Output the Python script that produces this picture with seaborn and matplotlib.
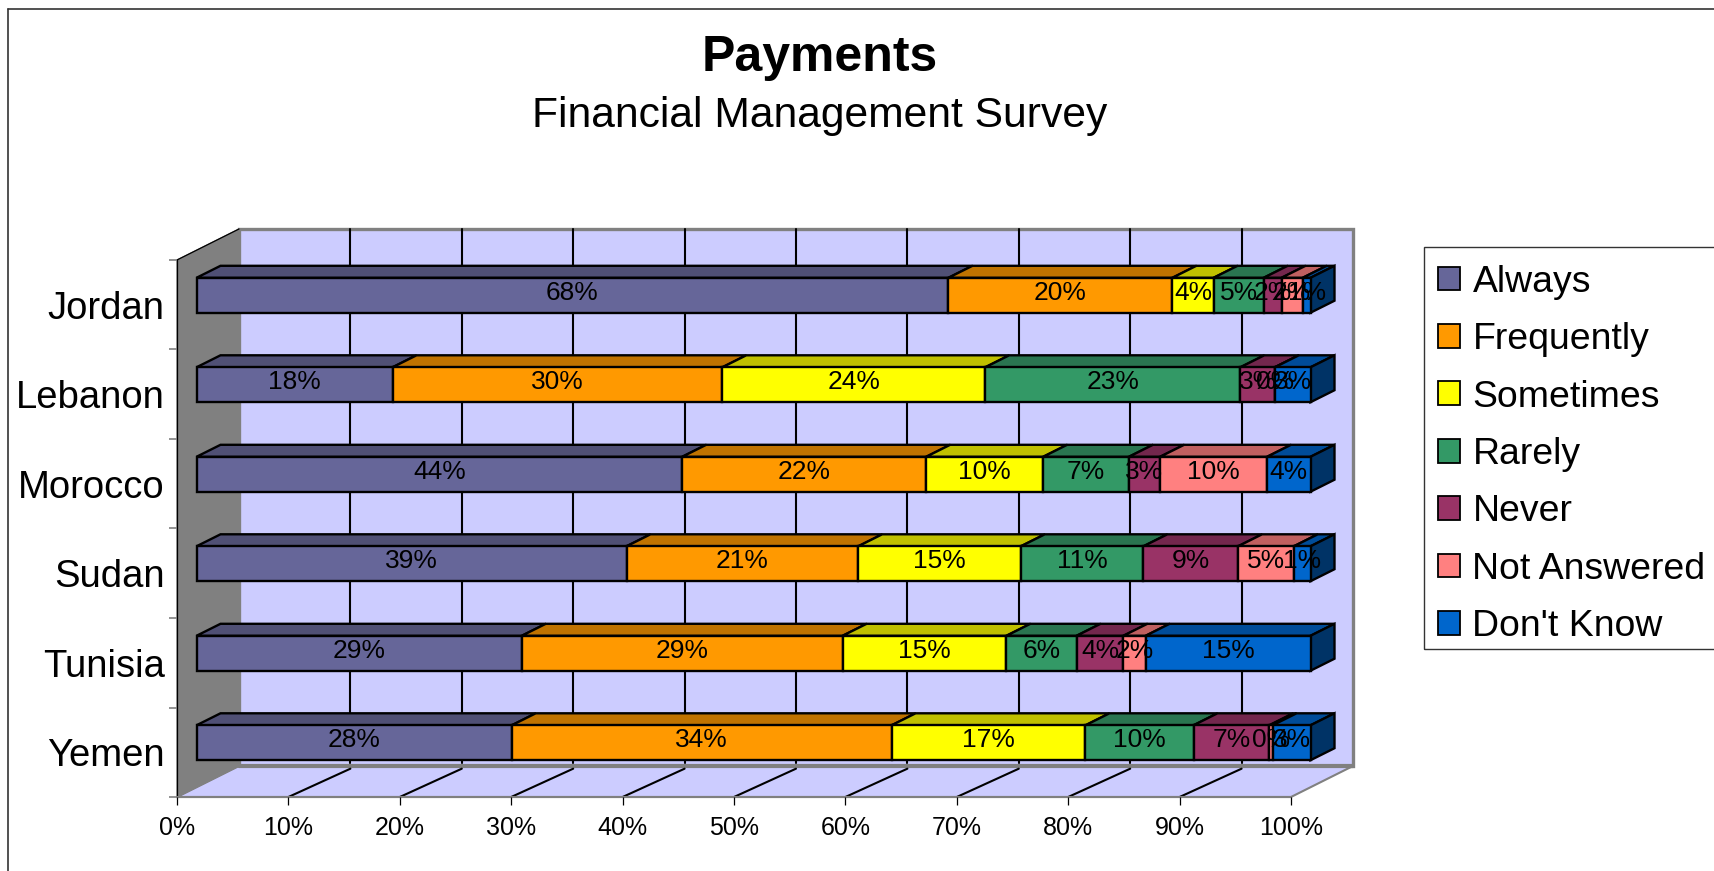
"""Payments chart: 100% stacked bars with an oblique 3D look."""

import matplotlib
matplotlib.use("Agg")
import matplotlib.pyplot as plt
import matplotlib.transforms as mtransforms
from matplotlib.patches import Patch, Rectangle
import numpy as np
import pandas as pd
import seaborn as sns

countries = ["Jordan", "Lebanon", "Morocco", "Sudan", "Tunisia", "Yemen"]
responses = ["Always", "Frequently", "Sometimes", "Rarely", "Never", "Not Answered", "Don't Know"]

# bar lengths (the chart normalises to 100%)
always = [67.5, 17.6, 43.6, 38.6, 29.2, 28.3]
frequently = [20.1, 29.6, 21.9, 20.8, 28.8, 34.1]
sometimes = [3.7, 23.6, 10.5, 14.6, 14.7, 17.4]
rarely = [4.5, 22.9, 7.7, 11.0, 6.3, 9.7]
never = [1.6, 3.1, 2.8, 8.5, 4.2, 6.8]
not_answered = [1.9, 0.0, 9.6, 5.0, 2.0, 0.3]
dont_know = [0.7, 3.2, 3.9, 1.5, 14.8, 3.4]

# printed data labels, they do not always round from the bar length
always_labels = ["68%", "18%", "44%", "39%", "29%", "28%"]
frequently_labels = ["20%", "30%", "22%", "21%", "29%", "34%"]
sometimes_labels = ["4%", "24%", "10%", "15%", "15%", "17%"]
rarely_labels = ["5%", "23%", "7%", "11%", "6%", "10%"]
never_labels = ["2%", "3%", "3%", "9%", "4%", "7%"]
not_answered_labels = ["2%", "0%", "10%", "5%", "2%", "0%"]
dont_know_labels = ["1%", "3%", "4%", "1%", "15%", "3%"]

series = [always, frequently, sometimes, rarely, never, not_answered, dont_know]
series_labels = [always_labels, frequently_labels, sometimes_labels, rarely_labels,
                 never_labels, not_answered_labels, dont_know_labels]

colors = ["#666699", "#FF9900", "#FFFF00", "#339966", "#993366", "#FF8080", "#0066CC"]
top_colors = ["#505075", "#C07300", "#C0C000", "#2A7550", "#73274D", "#C06060", "#004C99"]
side_color = "#003366"
wall_color = "#CCCCFF"
edge_gray = "#808080"

W, H = 1714, 871
AX_L, AX_R, AX_T, AX_B = 177, 1291, 260, 797
BAR_W = 0.39
BAR_LW = 1.7

sns.set_theme(style="white")
plt.rcParams["font.family"] = ["Liberation Sans", "DejaVu Sans"]
plt.rcParams["text.color"] = "black"

fig = plt.figure(figsize=(W / 100, H / 100), dpi=100)
ax = fig.add_axes([AX_L / W, 1 - AX_B / H, (AX_R - AX_L) / W, (AX_B - AX_T) / H])
ax.patch.set_visible(False)

px_x = (AX_R - AX_L) / 100
px_y = (AX_B - AX_T) / 6
# depth of the box and of one bar, in data units
wall_dx, wall_dy = 62 / px_x, 31 / px_y
bar_dx, bar_dy = 24 / px_x, 12 / px_y

# bars sit halfway into the box
bar_trans = ax.transData + mtransforms.Affine2D().translate(19.5, 9.5)

# back wall, side wall and floor
y_top, y_bot = -0.5, 5.5
ax.fill([wall_dx, 100 + wall_dx, 100 + wall_dx, wall_dx],
        [y_top - wall_dy, y_top - wall_dy, y_bot - wall_dy, y_bot - wall_dy],
        facecolor=wall_color, edgecolor=edge_gray, lw=2.4, clip_on=False, zorder=1)
ax.fill([0, wall_dx, 100 + wall_dx, 100],
        [y_bot, y_bot - wall_dy, y_bot - wall_dy, y_bot],
        facecolor=wall_color, edgecolor=edge_gray, lw=1.5, clip_on=False, zorder=1)
ax.plot([wall_dx, 100 + wall_dx], [y_bot - wall_dy, y_bot - wall_dy], color=edge_gray,
        lw=3, clip_on=False, zorder=1.05)
ax.fill([0, wall_dx, wall_dx, 0],
        [y_top, y_top - wall_dy, y_bot - wall_dy, y_bot],
        facecolor=edge_gray, edgecolor=edge_gray, lw=1, clip_on=False, zorder=1.1)
ax.plot([0, wall_dx], [y_top, y_top - wall_dy], color="black", lw=0.9, clip_on=False, zorder=1.2)

# gridlines on the wall and across the floor
for v in range(10, 100, 10):
    ax.plot([v + wall_dx, v + wall_dx], [y_top - wall_dy, y_bot - wall_dy - 0.03],
            color="black", lw=1.5, clip_on=False, zorder=1.5)
    ax.plot([v, v + wall_dx], [y_bot, y_bot - wall_dy + 0.03],
            color="black", lw=1.5, clip_on=False, zorder=1.5)

df = pd.DataFrame({"country": countries})
left = np.zeros(len(countries))
for name, vals, color in zip(responses, series, colors):
    df["share"] = vals
    sns.barplot(data=df, x="share", y="country", order=countries, orient="h", left=left,
                color=color, saturation=1, width=BAR_W, edgecolor="black", linewidth=BAR_LW,
                transform=bar_trans, zorder=3, clip_on=False, ax=ax, errorbar=None)
    left = left + np.array(vals)

# oblique top faces, and the end face of the last segment
left = np.zeros(len(countries))
for vals, top_color in zip(series, top_colors):
    for i, v in enumerate(vals):
        l, r, yt = left[i], left[i] + v, i - BAR_W / 2
        ax.fill([l, r, r + bar_dx, l + bar_dx], [yt, yt, yt - bar_dy, yt - bar_dy],
                facecolor=top_color, edgecolor="black", lw=BAR_LW, transform=bar_trans,
                clip_on=False, zorder=2.8)
    left = left + np.array(vals)
for i, total in enumerate(left):
    yt, yb = i - BAR_W / 2, i + BAR_W / 2
    ax.fill([total, total + bar_dx, total + bar_dx, total],
            [yt, yt - bar_dy, yb - bar_dy, yb],
            facecolor=side_color, edgecolor="black", lw=BAR_LW, transform=bar_trans,
            clip_on=False, zorder=2.8)

# data labels
left = np.zeros(len(countries))
for vals, labels in zip(series, series_labels):
    for i, (v, lab) in enumerate(zip(vals, labels)):
        ax.text(left[i] + v / 2, i - 0.03, lab, ha="center", va="center", fontsize=19,
                color="black", transform=bar_trans, clip_on=False, zorder=5)
    left = left + np.array(vals)

# axes
ax.set_xlim(0, 100)
ax.set_ylim(y_bot, y_top)
ax.set_xlabel("")
ax.set_ylabel("")
ax.set_xticks(range(0, 101, 10))
ax.set_xticklabels([f"{v}%" for v in range(0, 101, 10)], fontsize=18)
ax.set_yticks(range(len(countries)))
ax.set_yticklabels(countries, fontsize=27.5, color="black")
ax.set_yticks(np.arange(-0.5, 6), minor=True)
ax.tick_params(axis="x", length=5.5, width=0.9, color="black", pad=8.5, bottom=True, labelcolor="black")
ax.tick_params(axis="y", which="major", length=0, pad=9, left=False)
ax.tick_params(axis="y", which="minor", length=5.5, width=1.2, color=edge_gray, left=True)
for side in ["top", "right"]:
    ax.spines[side].set_visible(False)
ax.spines["left"].set_color("black")
ax.spines["left"].set_linewidth(0.9)
ax.spines["bottom"].set_color(edge_gray)
ax.spines["bottom"].set_linewidth(1.5)
ax.set_axisbelow(False)
for spine in ax.spines.values():
    spine.set_zorder(2)

handles = [Patch(facecolor=c, edgecolor="black", linewidth=1.3) for c in colors]
ax.legend(handles, responses, loc="upper left", bbox_to_anchor=(1422 / W, 1 - 249 / H),
          bbox_transform=fig.transFigure, fontsize=26.9, frameon=False,
          borderpad=0.42, borderaxespad=0,
          handlelength=0.6, handleheight=0.6, handletextpad=0.33, labelspacing=0.6)
# legend frame, runs off the right of the image
fig.add_artist(Rectangle((1424 / W, 1 - 649 / H), 300 / W, 402 / H, fill=False,
                         edgecolor="#333333", lw=1.0, transform=fig.transFigure))

fig.text(820 / W, 1 - 58 / H, "Payments", ha="center", va="center", fontsize=36,
         fontweight="bold", color="black")
fig.text(820 / W, 1 - 116 / H, "Financial Management Survey", ha="center", va="center",
         fontsize=30.7, color="black")

# outer chart border, runs off the right and bottom of the image
fig.add_artist(plt.Line2D([8 / W, 8 / W], [0, 1 - 9 / H], color="#333333", lw=1.2))
fig.add_artist(plt.Line2D([8 / W, 1], [1 - 9 / H, 1 - 9 / H], color="#333333", lw=1.2))

fig.savefig("out.png", dpi=100)
